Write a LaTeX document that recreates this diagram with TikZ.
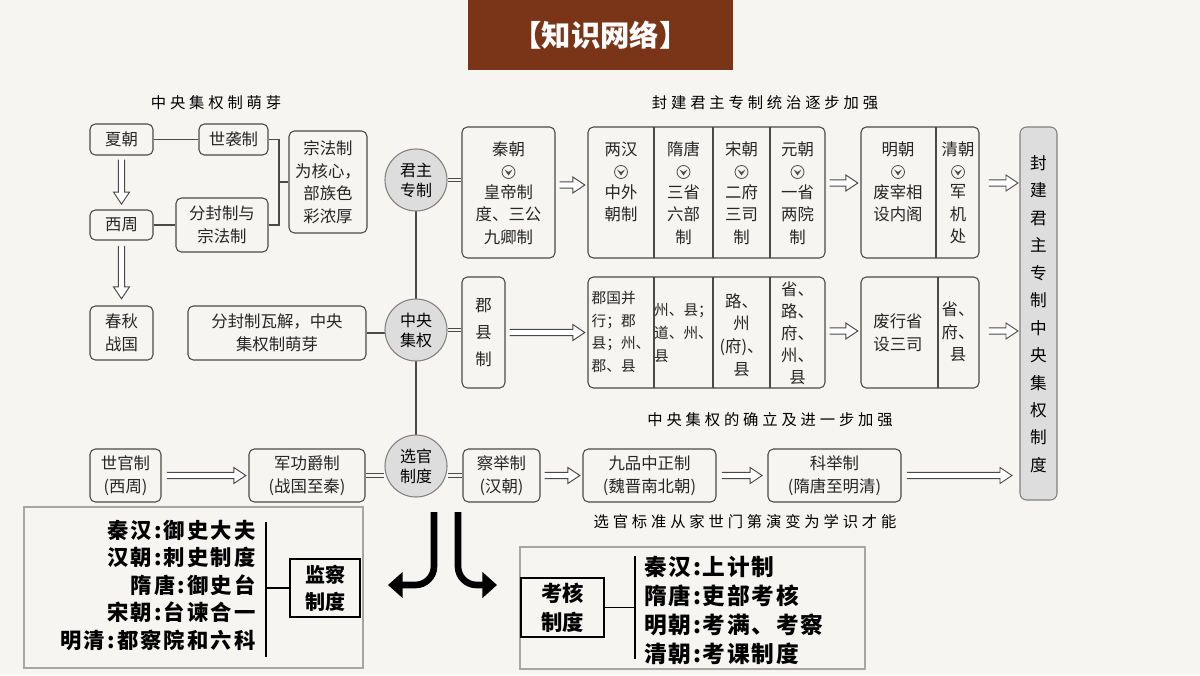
\documentclass[tikz,border=0pt]{standalone}
\usepackage{fontspec}
\setmainfont{Noto Sans CJK SC}
\usetikzlibrary{arrows.meta,calc}
\definecolor{bgc}{HTML}{F6F5F2}
\definecolor{lc}{HTML}{4A4A4A}
\definecolor{brown}{HTML}{7A3518}
\definecolor{cf}{HTML}{DDDDDD}
\newcommand\fs{\fontsize{12.3}{17}\selectfont}
\newcommand\harr[2]{\draw[hol] let \p1=#1, \p2=#2 in (\x1,\y1+2.3pt) -- (\x2-9pt,\y1+2.3pt) -- (\x2-9pt,\y1+6pt) -- (\x2,\y1) -- (\x2-9pt,\y1-6pt) -- (\x2-9pt,\y1-2.3pt) -- (\x1,\y1-2.3pt);}
\newcommand\varr[2]{\draw[hol] let \p1=#1, \p2=#2 in (\x1-2.3pt,\y1) -- (\x1-2.3pt,\y2+9pt) -- (\x1-6pt,\y2+9pt) -- (\x1,\y2) -- (\x1+6pt,\y2+9pt) -- (\x1+2.3pt,\y2+9pt) -- (\x1+2.3pt,\y1);}
\newcommand\chev[2]{\draw[lc,line width=0.6pt] (#1,#2) circle[radius=6.5]; \fill[lc] (#1-4,#2-2.5) -- (#1,#2+3.5) -- (#1+4,#2-2.5) -- (#1,#2) -- cycle;}
\begin{document}
\begin{tikzpicture}[x=0.75pt,y=-0.75pt,
  wh/.style 2 args={minimum width=#1*0.75pt,minimum height=#2*0.75pt},
  bx/.style={draw=lc,rounded corners=4pt,line width=0.8pt,inner sep=0pt},
  tx/.style={font=\fs,align=center,inner sep=0pt,text=black!85},
  sm/.style={font=\fontsize{11}{17}\selectfont},
  lab/.style={font=\fontsize{11.5}{14}\selectfont\addfontfeature{LetterSpace=25},inner sep=0pt},
  circ/.style={circle,draw=lc!70,fill=cf,line width=0.8pt,minimum size=46.5pt,inner sep=0pt,font=\fontsize{12}{15}\selectfont,align=center},
  hol/.style={draw=lc,line width=0.7pt,fill=white},
  ln/.style={draw=lc,line width=0.8pt},
  dbl/.style={draw=lc,double=bgc,double distance=2.2pt,line width=0.7pt},
  bold/.style={font=\fontsize{16}{20}\selectfont\bfseries\addfontfeature{LetterSpace=10},inner sep=0pt},
  boldr/.style={font=\fontsize{17}{20}\selectfont\bfseries\addfontfeature{LetterSpace=8},inner sep=0pt,anchor=west},
  big/.style={line width=5pt,-{Triangle[length=11pt,width=19pt]},rounded corners=14pt}]
\useasboundingbox (0,0) rectangle (1200,675);
\fill[bgc] (0,0) rectangle (1200,675);
% title
\node[fill=brown,wh={265}{70},inner sep=0,text=white,font=\fontsize{22}{26}\selectfont\bfseries] (title) at (600.5,35) {【知识网络】};
% section labels
\node[lab] (l1) at (216,103) {中央集权制萌芽};
\node[lab] (l2) at (765,103) {封建君主专制统治逐步加强};
\node[lab] (l3) at (770,420) {中央集权的确立及进一步加强};
\node[lab] (l4) at (745,522) {选官标准从家世门第演变为学识才能};
% left column
\node[bx,wh={63}{31},tx] (xia) at (121.5,139.5) {夏朝};
\node[bx,wh={69}{31},tx] (sx) at (233.5,139.5) {世袭制};
\node[bx,wh={63}{30},tx] (xz) at (121.5,225) {西周};
\node[bx,wh={92}{54},tx] (ff) at (222,225) {分封制与\\宗法制};
\node[bx,wh={78}{102},tx] (zf) at (328,182) {宗法制\\为核心，\\部族色\\彩浓厚};
\node[bx,wh={63}{54},tx] (cq) at (121.5,333) {春秋\\战国};
\node[bx,wh={178}{54},tx] (fw) at (277,333) {分封制瓦解，中央\\集权制萌芽};
\draw[ln] (xia) -- (sx);
\draw[ln] (xz) -- (ff);
\draw[ln] (sx.east) -- (279,139.5) -- (279,225) -- (ff.east);
\draw[ln] (279,182) -- (zf.west);
\draw[ln] (fw) -- (416,333);
\varr{([yshift=-3pt]xia.south)}{([yshift=4pt]xz.north)}
\varr{([yshift=-4pt]xz.south)}{([yshift=5pt]cq.north)}
% circles
\draw[ln] (416,180) -- (416,466);
\node[circ] (jz) at (416,180) {君主\\专制};
\node[circ] (zy) at (416,330) {中央\\集权};
\node[circ] (xg) at (416,466) {选官\\制度};
% row 1
\node[bx,wh={93}{131}] (qin) at (508.5,192.5) {};
\node[tx] (qt) at (508.5,149) {秦朝};
\chev{508.5}{172}
\node[tx,anchor=north] (qb) at (508.5,184) {皇帝制\\度、三公\\九卿制};
\draw[dbl] (jz.east) -- (qin.west|-jz.east);
\node[bx,wh={237}{131}] (g1) at (706.5,192.5) {};
\foreach \x in {654,713,770} \draw[ln] (\x,127) -- (\x,258);
\node[tx] (h1) at (621,149) {两汉};
\node[tx] (h2) at (683.5,149) {隋唐};
\node[tx] (h3) at (741.5,149) {宋朝};
\node[tx] (h4) at (797.5,149) {元朝};
\foreach \x in {621,683.5,741.5,797.5} \chev{\x}{172};
\node[tx,anchor=north] (b1) at (621,184) {中外\\朝制};
\node[tx,anchor=north] (b2) at (683.5,184) {三省\\六部\\制};
\node[tx,anchor=north] (b3) at (741.5,184) {二府\\三司\\制};
\node[tx,anchor=north] (b4) at (797.5,184) {一省\\两院\\制};
\node[bx,wh={118}{131}] (mq) at (920,192.5) {};
\draw[ln] (936,127) -- (936,258);
\node[tx] (m1) at (898,149) {明朝};
\node[tx] (m2) at (958,149) {清朝};
\chev{898}{172} \chev{958}{172}
\node[tx,anchor=north] (mb1) at (898,184) {废宰相\\设内阁};
\node[tx,anchor=north] (mb2) at (958,184) {军\\机\\处};
\harr{([xshift=3pt]qin.east|-0,185)}{([xshift=-2pt]g1.west|-0,185)}
\harr{([xshift=3pt]g1.east|-0,183)}{([xshift=-2pt]mq.west|-0,183)}
\harr{([xshift=7pt]mq.east|-0,183)}{(1018,183)}
% row 2
\node[bx,wh={43}{111},tx] (jx) at (483.5,332.5) {郡\\[3pt]县\\[3pt]制};
\draw[dbl] (zy.east) -- (jx.west|-zy.east);
\node[bx,wh={237}{111}] (g2) at (706.5,332.5) {};
\foreach \x in {654,713,770} \draw[ln] (\x,277) -- (\x,388);
\node[tx,sm,align=left] (c1) at (621,332) {郡国并\\行；郡\\县；州、\\郡、县};
\node[tx,sm,align=left] (c2) at (683.5,333) {州、县；\\道、州、\\县};
\node[tx] (c3) at (741.5,335) {路、\\州\\(府)、\\县};
\node[tx,font=\fontsize{12.3}{16.5}\selectfont] (c4) at (797.5,333) {省、\\路、\\府、\\州、\\县};
\node[bx,wh={118}{111}] (mq2) at (920,332.5) {};
\draw[ln] (938,277) -- (938,388);
\node[tx] (d1) at (898,333) {废行省\\设三司};
\node[tx] (d2) at (958,332) {省、\\府、\\县};
\harr{([xshift=3pt]jx.east)}{([xshift=-2pt]g2.west)}
\harr{([xshift=3pt]g2.east|-0,331)}{([xshift=-2pt]mq2.west|-0,331)}
\harr{([xshift=7pt]mq2.east|-0,331)}{(1018,331)}
% right tall box
\node[draw=lc!70,fill=cf,rounded corners=5pt,line width=0.8pt,wh={37}{373},inner sep=0pt] (fj) at (1038.5,313.5) {};
\node[font=\fontsize{12.5}{20.6}\selectfont,align=center,inner sep=0] (fjt) at (1038.5,314) {封\\建\\君\\主\\专\\制\\中\\央\\集\\权\\制\\度};
% row 3
\node[bx,wh={71}{53},tx] (sg) at (125.5,475.5) {世官制\\(西周)};
\node[bx,wh={116}{53},tx] (jg) at (307,475.5) {军功爵制\\(战国至秦)};
\node[bx,wh={77}{53},tx] (cj) at (501.5,475.5) {察举制\\(汉朝)};
\node[bx,wh={133}{53},tx] (jp) at (649.5,475.5) {九品中正制\\(魏晋南北朝)};
\node[bx,wh={133}{53},tx] (kj) at (834.5,475.5) {科举制\\(隋唐至明清)};
\harr{([xshift=4pt]sg.east)}{([xshift=-2pt]jg.west)}
\draw[dbl] (jg.east) -- (xg.west|-0,475.5);
\draw[dbl] (xg.east|-0,475.5) -- (cj.west);
\harr{([xshift=3pt]cj.east)}{([xshift=-2pt]jp.west)}
\harr{([xshift=4pt]jp.east)}{([xshift=-4pt]kj.west)}
\harr{([xshift=4pt]kj.east)}{(1012,475.5)}
% bottom left
\node[draw=black!35,fill=bgc,line width=0.8pt,wh={339}{161},inner sep=0] (jcb) at (193.5,587.5) {};
\node[bold,anchor=east] (j1) at (256,530) {秦汉:御史大夫};
\node[bold,anchor=east] (j2) at (256,557) {汉朝:刺史制度};
\node[bold,anchor=east] (j3) at (256,585) {隋唐:御史台};
\node[bold,anchor=east] (j4) at (256,612) {宋朝:台谏合一};
\node[bold,anchor=east] (j5) at (256,640) {明清:都察院和六科};
\draw[line width=1pt] (266,522) -- (266,657);
\node[draw=black,line width=1pt,wh={70}{58},font=\fontsize{15}{20}\selectfont\bfseries,align=center,fill=bgc,inner sep=0] (jc) at (325,588) {监察\\制度};
\draw[line width=1pt] (266,588) -- (jc.west);
% bottom right
\node[draw=black!35,fill=bgc,line width=0.8pt,wh={345}{122},inner sep=0] (khb) at (692.5,608) {};
\node[draw=black,line width=1pt,wh={83}{59},align=center,fill=bgc,inner sep=0,font=\fontsize{16}{22}\selectfont\bfseries] (kh) at (562.5,607.5) {考核\\制度};
\draw[line width=1pt] (635,556) -- (635,659);
\draw[line width=1pt] (kh.east) -- (635,607.5);
\node[boldr] (k1) at (644,567) {秦汉:上计制};
\node[boldr] (k2) at (644,596) {隋唐:吏部考核};
\node[boldr] (k3) at (644,625) {明朝:考满、考察};
\node[boldr] (k4) at (644,654) {清朝:考课制度};
% bold arrows
\coordinate (a1) at (434,512);
\coordinate (a2) at (458,512);
\draw[big] (a1) -- (434,585) -- (388,585);
\draw[big] (a2) -- (458,585) -- (497,585);
\end{tikzpicture}
\end{document}
